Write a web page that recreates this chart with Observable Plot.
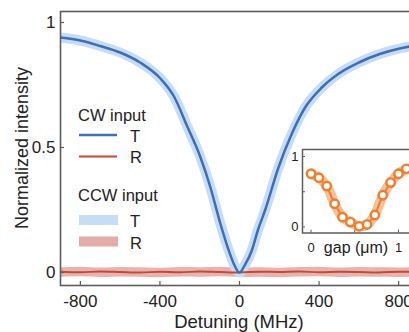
<!DOCTYPE html>
<html><head><meta charset="utf-8">
<script src="https://cdn.jsdelivr.net/npm/d3@7"></script>
<script src="https://cdn.jsdelivr.net/npm/@observablehq/plot@0.6"></script>
<style>
html,body{margin:0;padding:0;background:#fff;overflow:hidden;width:409px;height:332px;}
#wrap{position:relative;width:409px;height:332px;overflow:hidden;}
#main{position:absolute;left:0;top:0;width:420px;height:332px;}
#inset{position:absolute;left:280px;top:140px;width:140px;height:120px;}
#main svg, #inset svg{max-width:none !important;}
#overlay{position:absolute;left:0;top:0;pointer-events:none;}
</style></head><body>
<div id="wrap"><div id="main"></div><div id="inset"></div>
<svg id="overlay" width="409" height="332"></svg></div>
<script>
// ---- data ----
const detuning = [-900,-800,-700,-600,-500,-400,-330,-263,-196,-146,-96,-54,-20,-8,0,8,20,62,92,129,196,263,330,414,498,600,709,800,900];
const cwT      = [0.94,0.928,0.906,0.88,0.84,0.778,0.705,0.585,0.46,0.34,0.195,0.088,0.02,0.004,0.0,0.004,0.02,0.088,0.168,0.25,0.42,0.555,0.66,0.74,0.795,0.84,0.875,0.895,0.91];
const ccwT     = [0.94,0.928,0.906,0.88,0.84,0.778,0.705,0.585,0.46,0.34,0.195,0.088,0.02,0.004,0.0,0.004,0.02,0.088,0.168,0.25,0.42,0.555,0.66,0.74,0.795,0.84,0.875,0.895,0.91];
const rDetuning = [-900,-800,-700,-600,-500,-400,-300,-200,-100,0,100,200,300,400,500,600,700,800,900];
const cwR  = [0.003,0.001,0.004,0.002,0.000,0.003,0.001,0.004,0.002,0.000,0.003,0.002,0.004,0.001,0.003,0.002,0.000,0.003,0.002];
const ccwR = [0.002,0.004,0.001,0.003,0.002,0.000,0.003,0.002,0.004,0.001,0.002,0.000,0.003,0.004,0.001,0.003,0.002,0.001,0.003];
const xTicks = [-800,-400,0,400,800];
const yTicks = [0,0.5,1];
const gap = [0,0.09,0.18,0.27,0.36,0.45,0.55,0.64,0.73,0.82,0.91,1.0,1.09];
const gapT = [0.755,0.70,0.58,0.33,0.14,0.07,0.01,0.035,0.17,0.45,0.63,0.755,0.825];
const insetXTicks = [0,0.5,1];
const insetXLabels = [0,1];
const insetYTicks = [0,0.5,1];
const insetYLabels = [0,1];
const legendCW = ["T","R"];
const legendCCW = ["T","R"];

const FONT = '"Liberation Sans", Arial, Helvetica, sans-serif';
const C = {blue:"#3d6dbf", blueBand:"#c6ddf8", red:"#cb4733", redBand:"#e4aba8",
           orange:"#f37d28", orangeBand:"#f8b48a", frame:"#5c5c5c", text:"#222"};

const tData = detuning.map((d,i)=>({d, cw: cwT[i], ccw: ccwT[i]}));
const rData = rDetuning.map((d,i)=>({d, cw: cwR[i], ccw: ccwR[i]}));
const gData = gap.map((g,i)=>({g, t: gapT[i]}));
const fmt = d => String(d);

const W = 420, H = 332, ML = 60, MR = 2, MT = 11, MB = 47;
const main = Plot.plot({
  width: W, height: H, marginLeft: ML, marginRight: MR, marginTop: MT, marginBottom: MB,
  style: {fontFamily: FONT, fontSize: "17px", color: C.text, background: "transparent", maxWidth: "none"},
  x: {domain: [-900, 900]},
  y: {domain: [-0.052, 1.044]},
  marks: [
    Plot.line(rData, {x: "d", y: "ccw", stroke: C.redBand, strokeWidth: 9.5, strokeOpacity: 0.9, curve: "catmull-rom", clip: true}),
    Plot.line(tData, {x: "d", y: "ccw", stroke: C.blueBand, strokeWidth: 10, curve: "monotone-x", clip: true}),
    Plot.line(rData, {x: "d", y: "cw", stroke: C.red, strokeWidth: 2, curve: "catmull-rom", clip: true}),
    Plot.line(tData, {x: "d", y: "cw", stroke: C.blue, strokeWidth: 2.5, curve: "monotone-x", clip: true}),
    Plot.frame({stroke: C.frame, strokeWidth: 1.6}),
    Plot.tickX(xTicks, {x: d => d, insetTop: (H-MT-MB) - 4, stroke: C.frame, strokeWidth: 1.2}),
    Plot.tickY(yTicks, {y: d => d, insetRight: (W-ML-MR) - 4, stroke: C.frame, strokeWidth: 1.2}),
    Plot.axisX(xTicks, {tickSize: 0, tickPadding: 9, label: null, fontSize: 17, fill: C.text, tickFormat: fmt}),
    Plot.axisY(yTicks, {tickSize: 0, tickPadding: 5, label: null, fontSize: 17, fill: C.text, tickFormat: fmt})
  ]
});
document.getElementById("main").appendChild(main);

const IW = 140, IH = 120, IML = 22, IMR = 4.5, IMT = 9, IMB = 27.5;
const inset = Plot.plot({
  width: IW, height: IH, marginLeft: IML, marginRight: IMR, marginTop: IMT, marginBottom: IMB,
  style: {fontFamily: FONT, fontSize: "13px", color: C.text, background: "transparent", maxWidth: "none"},
  x: {domain: [-0.097, 1.2]},
  y: {domain: [-0.085, 1.099]},
  marks: [
    Plot.line(gData, {x: "g", y: "t", stroke: C.orangeBand, strokeWidth: 10, strokeOpacity: 0.85, strokeLinecap: "round", curve: "catmull-rom"}),
    Plot.line(gData, {x: "g", y: "t", stroke: C.orange, strokeWidth: 2}),
    Plot.dot(gData, {x: "g", y: "t", r: 4.2, fill: "white", stroke: C.orange, strokeWidth: 2.4}),
    Plot.frame({stroke: C.frame, strokeWidth: 1.5}),
    Plot.tickX(insetXTicks, {x: d => d, insetTop: (IH-IMT-IMB) - 3, stroke: C.frame, strokeWidth: 1}),
    Plot.tickY(insetYTicks, {y: d => d, insetRight: (IW-IML-IMR) - 3, stroke: C.frame, strokeWidth: 1}),
    Plot.axisX(insetXLabels, {tickSize: 0, tickPadding: 10, label: null, fontSize: 13, fill: C.text, tickFormat: fmt}),
    Plot.axisY(insetYLabels, {tickSize: 0, tickPadding: 4, label: null, fontSize: 13, fill: C.text, tickFormat: fmt})
  ]
});
document.getElementById("inset").appendChild(inset);

// ---- titles and legend ----
const ov = d3.select("#overlay").style("font-family", FONT);
ov.append("text").attr("x", 239).attr("y", 327.5).attr("text-anchor", "middle")
  .attr("font-size", 18.5).attr("fill", C.text).text("Detuning (MHz)");
ov.append("text").attr("transform", "translate(27.5,148) rotate(-90)").attr("text-anchor", "middle")
  .attr("font-size", 18).attr("fill", C.text).text("Normalized intensity");
ov.append("text").attr("x", 356).attr("y", 253).attr("text-anchor", "middle")
  .attr("font-size", 16).attr("fill", C.text).text("gap (μm)");

const lg = ov.append("g").attr("fill", C.text).attr("font-size", 16.5);
lg.append("text").attr("x", 78).attr("y", 120.5).text("CW input");
legendCW.forEach((s, i) => {
  const y = 135 + i * 21.5;
  lg.append("line").attr("x1", 79).attr("x2", 117).attr("y1", y).attr("y2", y)
    .attr("stroke", i === 0 ? C.blue : C.red).attr("stroke-width", i === 0 ? 2.5 : 2);
  lg.append("text").attr("x", 130).attr("y", y + 6.5).text(s);
});
lg.append("text").attr("x", 78).attr("y", 200.5).text("CCW input");
legendCCW.forEach((s, i) => {
  const y = 220 + i * 21.5;
  lg.append("rect").attr("x", 79).attr("width", 39).attr("y", y - 5).attr("height", 10)
    .attr("fill", i === 0 ? C.blueBand : C.redBand);
  lg.append("text").attr("x", 130).attr("y", y + 7).text(s);
});
</script></body></html>
